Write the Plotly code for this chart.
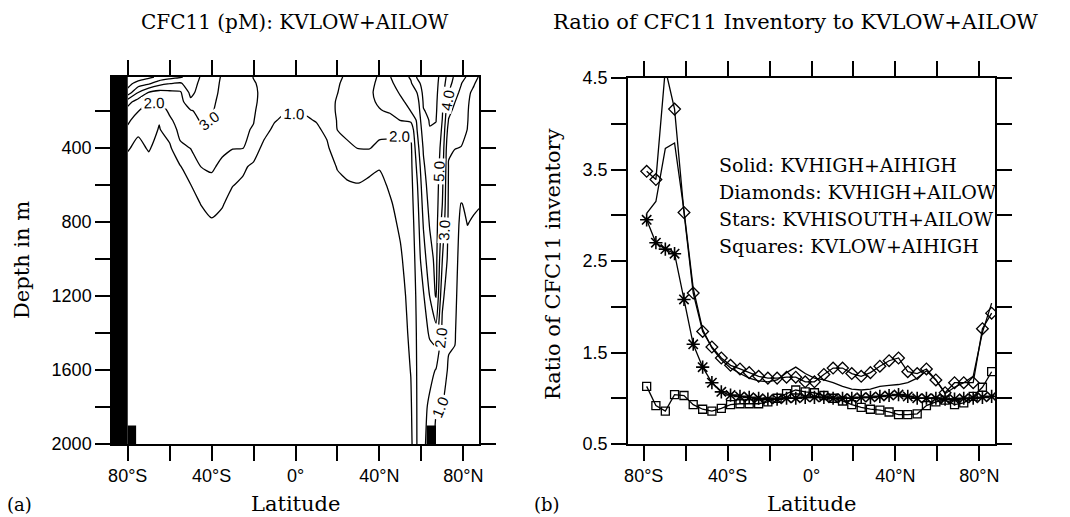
import numpy as np
import plotly.graph_objects as go

# ---------------- Panel (a): CFC11 section (pM), KVLOW+AILOW ----------------
depth_m = [16, 50, 100, 150, 200, 250, 300, 400, 500, 600, 700, 800,
           1000, 1200, 1400, 1600, 1800, 2000]

grid_lat = [-80, -75, -70, -65, -60, -55, -50, -45, -40, -35, -30, -25, -20,
            -15, -10, -5, 0, 5, 10, 15, 20, 25, 30, 35, 40, 45, 50, 55, 58,
            61, 64, 67, 70, 73, 76, 79, 82, 85, 87.5]

# one CFC11 profile (pM) per latitude in grid_lat, at the depths in depth_m
cfc11_profiles = [
    [7.0, 6.4, 5.6, 3.4, 2.6, 2.15, 1.85, 1.05, 0.8, 0.65, 0.55, 0.5, 0.42, 0.36, 0.32, 0.28, 0.25, 0.22],   # -80
    [6.6, 5.6, 4.0, 2.5, 2.02, 1.6, 1.1, 0.85, 0.7, 0.6, 0.52, 0.47, 0.4, 0.35, 0.3, 0.27, 0.24, 0.22],     # -75
    [6.2, 5.2, 2.95, 2.02, 1.7, 1.5, 1.35, 1.05, 0.8, 0.65, 0.55, 0.5, 0.42, 0.36, 0.32, 0.28, 0.25, 0.22],  # -70
    [5.8, 4.4, 2.6, 1.95, 1.5, 1.05, 0.95, 0.8, 0.7, 0.62, 0.55, 0.5, 0.42, 0.36, 0.32, 0.28, 0.25, 0.22],   # -65
    [5.4, 4.05, 2.75, 2.45, 2.15, 1.85, 1.4, 0.85, 0.72, 0.63, 0.56, 0.5, 0.42, 0.36, 0.32, 0.28, 0.25, 0.22],  # -60
    [5.1, 3.9, 2.85, 2.6, 2.45, 2.38, 2.3, 1.8, 0.95, 0.78, 0.66, 0.58, 0.48, 0.4, 0.35, 0.3, 0.27, 0.24],   # -55
    [4.7, 4.5, 4.25, 3.8, 2.9, 2.6, 2.35, 2.02, 1.5, 0.98, 0.8, 0.68, 0.55, 0.45, 0.38, 0.33, 0.29, 0.26],  # -50
    [3.9, 3.75, 3.6, 3.45, 3.3, 3.1, 2.85, 2.45, 2.02, 1.5, 1.02, 0.82, 0.62, 0.5, 0.42, 0.36, 0.31, 0.28], # -45
    [3.5, 3.4, 3.3, 3.2, 3.1, 3.02, 2.85, 2.5, 2.1, 1.8, 1.35, 0.9, 0.65, 0.52, 0.43, 0.37, 0.32, 0.29],    # -40
    [2.9, 2.85, 2.8, 2.7, 2.6, 2.5, 2.4, 2.15, 1.85, 1.5, 1.05, 0.85, 0.63, 0.5, 0.42, 0.36, 0.31, 0.28],   # -35
    [2.6, 2.55, 2.5, 2.45, 2.4, 2.3, 2.2, 2.02, 1.7, 1.02, 0.8, 0.68, 0.55, 0.45, 0.38, 0.33, 0.29, 0.26],  # -30
    [2.3, 2.28, 2.25, 2.22, 2.2, 2.15, 2.1, 2.02, 1.1, 0.9, 0.72, 0.62, 0.5, 0.42, 0.36, 0.31, 0.27, 0.25], # -25
    [1.98, 2.04, 2.08, 2.08, 2.06, 2.03, 1.95, 1.35, 0.88, 0.7, 0.6, 0.53, 0.45, 0.38, 0.33, 0.29, 0.26, 0.24],  # -20
    [1.85, 1.87, 1.88, 1.85, 1.75, 1.5, 1.25, 0.8, 0.6, 0.5, 0.44, 0.4, 0.35, 0.3, 0.27, 0.24, 0.22, 0.2],  # -15
    [1.75, 1.75, 1.7, 1.55, 1.35, 1.05, 0.85, 0.6, 0.48, 0.42, 0.38, 0.35, 0.31, 0.27, 0.24, 0.22, 0.2, 0.18],  # -10
    [1.7, 1.68, 1.6, 1.4, 1.05, 0.85, 0.7, 0.52, 0.43, 0.38, 0.35, 0.32, 0.28, 0.25, 0.22, 0.2, 0.18, 0.17],   # -5
    [1.65, 1.63, 1.55, 1.35, 1.05, 0.85, 0.7, 0.52, 0.43, 0.38, 0.35, 0.32, 0.28, 0.25, 0.22, 0.2, 0.18, 0.17],  # 0
    [1.65, 1.63, 1.55, 1.38, 1.1, 0.9, 0.72, 0.53, 0.44, 0.38, 0.35, 0.32, 0.28, 0.25, 0.22, 0.2, 0.18, 0.17],   # 5
    [1.7, 1.7, 1.65, 1.5, 1.3, 1.05, 0.85, 0.6, 0.48, 0.42, 0.38, 0.35, 0.3, 0.27, 0.24, 0.22, 0.2, 0.18],      # 10
    [1.8, 1.82, 1.85, 1.8, 1.7, 1.5, 1.2, 0.85, 0.65, 0.53, 0.46, 0.41, 0.35, 0.3, 0.27, 0.24, 0.22, 0.2],      # 15
    [1.9, 1.95, 1.99, 2.05, 2.08, 2.05, 2.02, 1.6, 1.05, 0.8, 0.65, 0.56, 0.46, 0.38, 0.33, 0.29, 0.26, 0.24],  # 20
    [2.1, 2.15, 2.2, 2.25, 2.25, 2.2, 2.15, 1.9, 1.3, 0.9, 0.72, 0.62, 0.5, 0.42, 0.36, 0.31, 0.27, 0.25],      # 25
    [2.4, 2.45, 2.5, 2.5, 2.45, 2.4, 2.3, 2.02, 1.45, 0.95, 0.78, 0.65, 0.52, 0.43, 0.37, 0.32, 0.28, 0.26],    # 30
    [2.7, 2.8, 2.9, 2.85, 2.75, 2.6, 2.45, 2.05, 1.2, 0.85, 0.72, 0.62, 0.5, 0.42, 0.36, 0.31, 0.27, 0.25],     # 35
    [3.1, 3.15, 3.15, 3.1, 2.95, 2.7, 2.25, 1.8, 1.05, 0.8, 0.68, 0.6, 0.5, 0.42, 0.36, 0.31, 0.27, 0.25],      # 40
    [3.95, 3.8, 3.55, 3.3, 3.08, 2.75, 2.2, 1.8, 1.45, 1.1, 0.92, 0.8, 0.62, 0.5, 0.42, 0.36, 0.31, 0.28],      # 45
    [4.6, 4.4, 4.1, 3.8, 3.4, 3.02, 2.1, 1.75, 1.55, 1.4, 1.25, 1.12, 0.9, 0.7, 0.58, 0.48, 0.42, 0.38],        # 50
    [5.1, 4.9, 4.6, 4.3, 4.02, 3.2, 2.3, 1.8, 1.75, 1.68, 1.62, 1.55, 1.42, 1.3, 1.18, 1.03, 0.88, 0.75],       # 55
    [6.1, 5.7, 5.02, 4.6, 4.35, 4.15, 4.02, 3.6, 3.2, 2.9, 2.7, 2.55, 2.35, 2.2, 2.12, 2.08, 2.06, 2.05],       # 58
    [6.4, 6.35, 6.25, 6.1, 5.95, 5.7, 5.45, 5.1, 4.85, 4.6, 4.35, 4.1, 3.6, 2.9, 2.5, 2.35, 2.3, 2.25],         # 61
    [6.5, 6.45, 6.35, 6.25, 6.15, 6.05, 5.97, 5.8, 5.6, 5.45, 5.3, 5.1, 4.6, 4.02, 3.15, 2.3, 1.8, 1.5],        # 64
    [6.3, 6.25, 6.2, 6.15, 6.1, 6.02, 5.9, 5.7, 5.6, 5.5, 5.45, 5.4, 5.3, 5.1, 3.6, 1.95, 1.05, 0.85],         # 67
    [5.6, 5.5, 5.35, 5.2, 5.1, 4.98, 4.85, 4.6, 4.4, 4.2, 4.02, 3.7, 3.02, 2.2, 1.75, 1.4, 0.98, 0.8],          # 70
    [4.6, 4.4, 4.02, 3.6, 3.25, 2.95, 2.6, 2.1, 1.95, 1.9, 1.85, 1.8, 1.7, 1.45, 1.15, 0.9, 0.75, 0.65],        # 73
    [3.8, 3.6, 3.3, 3.02, 2.75, 2.5, 2.3, 2.02, 1.7, 1.5, 1.35, 1.3, 1.25, 1.15, 1.05, 0.9, 0.75, 0.65],        # 76
    [3.3, 3.05, 2.8, 2.6, 2.45, 2.3, 2.2, 1.98, 1.6, 1.3, 0.98, 0.85, 0.7, 0.62, 0.56, 0.5, 0.45, 0.42],        # 79
    [2.9, 2.5, 2.1, 2.05, 2.03, 2.02, 1.99, 1.8, 1.5, 1.25, 1.1, 1.02, 0.8, 0.68, 0.6, 0.54, 0.48, 0.44],       # 82
    [2.3, 2.05, 1.9, 1.85, 1.8, 1.75, 1.7, 1.5, 1.35, 1.2, 1.08, 0.95, 0.8, 0.68, 0.6, 0.54, 0.48, 0.44],       # 85
    [1.95, 1.85, 1.75, 1.7, 1.65, 1.6, 1.55, 1.4, 1.25, 1.12, 1.03, 0.92, 0.78, 0.66, 0.58, 0.52, 0.47, 0.43],  # 87.5
]

# land (lat_west, lat_east, depth_top, depth_bottom)
land_boxes = [(-87.5, -80, 16, 2000), (-80, -76, 1900, 2000), (62.5, 67, 1900, 2000)]

depth_ticks = [200, 400, 600, 800, 1000, 1200, 1400, 1600, 1800, 2000]
depth_labels = ["", "400", "", "800", "", "1200", "", "1600", "", "2000"]

lat_ticks = [-80, -60, -40, -20, 0, 20, 40, 60, 80]
lat_labels = ["80°S", "", "40°S", "", "0°", "", "40°N", "", "80°N"]

# ---------------- Panel (b): inventory ratios ----------------
ratio_lat = [-78.6, -74.2, -69.7, -65.3, -60.8, -56.4, -51.9, -47.5, -43.0, -38.6,
             -34.1, -29.7, -25.2, -20.8, -16.4, -11.9, -7.5, -3.0, 1.4, 5.9,
             10.3, 14.8, 19.2, 23.7, 28.1, 32.6, 37.0, 41.5, 45.9, 50.4,
             54.8, 59.3, 63.7, 68.2, 72.6, 77.1, 81.5, 85.9]

solid_kvhigh_aihigh = [3.02, 3.15, 3.73, 3.79, 3.05, 2.2, 1.75, 1.55, 1.42, 1.33,
                       1.27, 1.22, 1.19, 1.18, 1.2, 1.28, 1.34, 1.27, 1.22, 1.2,
                       1.17, 1.13, 1.1, 1.09, 1.1, 1.13, 1.14, 1.15, 1.17, 1.22,
                       1.3, 1.2, 1.05, 1.12, 1.17, 1.24, 1.72, 2.04]

diamonds_kvhigh_ailow = [3.48, 3.39, 4.6, 4.16, 3.03, 2.15, 1.73, 1.56, 1.44, 1.36,
                         1.32, 1.28, 1.24, 1.22, 1.22, 1.23, 1.23, 1.18, 1.18, 1.26,
                         1.33, 1.33, 1.27, 1.24, 1.28, 1.35, 1.41, 1.44, 1.29, 1.27,
                         1.32, 1.2, 1.06, 1.17, 1.17, 1.17, 1.76, 1.93]

stars_kvhisouth_ailow = [2.95, 2.7, 2.63, 2.58, 2.08, 1.59, 1.34, 1.17, 1.07, 1.035,
                         1.02, 1.01, 1.0, 0.99, 0.99, 1.0, 1.0, 1.01, 1.01, 1.01,
                         1.0, 1.0, 1.0, 1.01, 1.01, 1.02, 1.03, 1.04, 1.02, 1.0,
                         1.0, 1.0, 0.99, 0.99, 1.0, 1.0, 1.01, 1.02]

squares_kvlow_aihigh = [1.13, 0.92, 0.86, 1.04, 1.03, 0.93, 0.88, 0.86, 0.89, 0.93,
                        0.94, 0.94, 0.94, 0.96, 1.0, 1.05, 1.09, 1.07, 1.06, 1.03,
                        1.0, 0.97, 0.93, 0.9, 0.88, 0.87, 0.85, 0.82, 0.82, 0.83,
                        0.92, 0.96, 0.98, 0.93, 0.95, 1.02, 1.12, 1.29]

ratio_ticks = [0.5, 1.0, 1.5, 2.0, 2.5, 3.0, 3.5, 4.0, 4.5]
ratio_labels = ["0.5", "", "1.5", "", "2.5", "", "3.5", "", "4.5"]

legend_lines = ["Solid: KVHIGH+AIHIGH", "Diamonds: KVHIGH+AILOW",
                "Stars: KVHISOUTH+AILOW", "Squares: KVLOW+AIHIGH"]

# ---------------- figure ----------------
W, H = 1070, 517
SERIF = "DejaVu Serif"
SANS = "Liberation Sans"


def fx(px):
    return px / W


def fy(py):
    return 1 - py / H


fig = go.Figure()

z = np.array(cfc11_profiles).T
fig.add_trace(go.Contour(
    x=grid_lat, y=depth_m, z=z,
    contours=dict(start=1, end=6, size=1, coloring="lines", showlabels=True,
                  labelfont=dict(family=SANS, size=15, color="black"),
                  labelformat=".1f"),
    colorscale=[[0, "black"], [1, "black"]], showscale=False,
    line=dict(width=1.3, smoothing=0.6),
    xaxis="x", yaxis="y", hoverinfo="skip",
))

line_style = dict(color="black", width=1.3)
fig.add_trace(go.Scatter(x=ratio_lat, y=solid_kvhigh_aihigh, mode="lines",
                         line=line_style, xaxis="x2", yaxis="y2"))
fig.add_trace(go.Scatter(x=ratio_lat, y=diamonds_kvhigh_ailow, mode="lines+markers",
                         line=line_style,
                         marker=dict(symbol="diamond-open", size=9, color="black",
                                     line=dict(width=1.3, color="black")),
                         xaxis="x2", yaxis="y2"))
fig.add_trace(go.Scatter(x=ratio_lat, y=stars_kvhisouth_ailow, mode="lines+markers",
                         line=line_style,
                         marker=dict(symbol="asterisk-open", size=11, color="black",
                                     line=dict(width=1.6, color="black")),
                         xaxis="x2", yaxis="y2"))
fig.add_trace(go.Scatter(x=ratio_lat, y=squares_kvlow_aihigh, mode="lines+markers",
                         line=line_style,
                         marker=dict(symbol="square-open", size=8, color="black",
                                     line=dict(width=1.3, color="black")),
                         xaxis="x2", yaxis="y2"))

for (x0, x1, y0, y1) in land_boxes:
    fig.add_shape(type="rect", xref="x", yref="y", x0=x0, x1=x1, y0=y0, y1=y1,
                  fillcolor="black", line=dict(width=0), layer="above")

axis_common = dict(ticks="outside", ticklen=15, tickwidth=1.5, tickcolor="black",
                   showline=True, linecolor="black", linewidth=1.5, mirror="allticks",
                   showgrid=False, zeroline=False, automargin=False,
                   tickfont=dict(family=SANS, size=18, color="black"))

fig.update_layout(
    width=W, height=H, margin=dict(l=0, r=0, t=0, b=0, pad=0, autoexpand=False),
    paper_bgcolor="white", plot_bgcolor="white", showlegend=False,
    xaxis=dict(domain=[fx(112), fx(479)], range=[-87.5, 87.5], anchor="y",
               tickvals=lat_ticks, ticktext=lat_labels, **axis_common),
    yaxis=dict(domain=[fy(444), fy(77)], range=[2000, 16], anchor="x",
               tickvals=depth_ticks, ticktext=depth_labels, **axis_common),
    xaxis2=dict(domain=[fx(628), fx(995)], range=[-87.5, 87.5], anchor="y2",
                tickvals=lat_ticks, ticktext=lat_labels, **axis_common),
    yaxis2=dict(domain=[fy(444), fy(78)], range=[0.5, 4.5], anchor="x2",
                tickvals=ratio_ticks, ticktext=ratio_labels, **axis_common),
)

texts = [
    ("CFC11 (pM): KVLOW+AILOW", 295, 22, 20, "center", 0),
    ("Ratio of CFC11 Inventory to KVLOW+AILOW", 795, 22, 21, "center", 0),
    ("Latitude", 295, 504, 21, "center", 0),
    ("Latitude", 811, 504, 21, "center", 0),
    ("Depth in m", 22, 260, 21, "center", -90),
    ("Ratio of CFC11 inventory", 553, 264, 21, "center", -90),
    ("(a)", 19, 504, 18, "center", 0),
    ("(b)", 547, 504, 18, "center", 0),
]
for (t, x, y, s, anchor, ang) in texts:
    fig.add_annotation(text=t, x=fx(x), y=fy(y), xref="paper", yref="paper",
                       showarrow=False, xanchor=anchor, yanchor="middle",
                       textangle=ang, font=dict(family=SERIF, size=s, color="black"))

for i, t in enumerate(legend_lines):
    fig.add_annotation(text=t, x=fx(717), y=fy(165 + 27 * i), xref="paper", yref="paper",
                       showarrow=False, xanchor="left", yanchor="middle",
                       font=dict(family=SERIF, size=19, color="black"))

fig.write_html("out.html")
